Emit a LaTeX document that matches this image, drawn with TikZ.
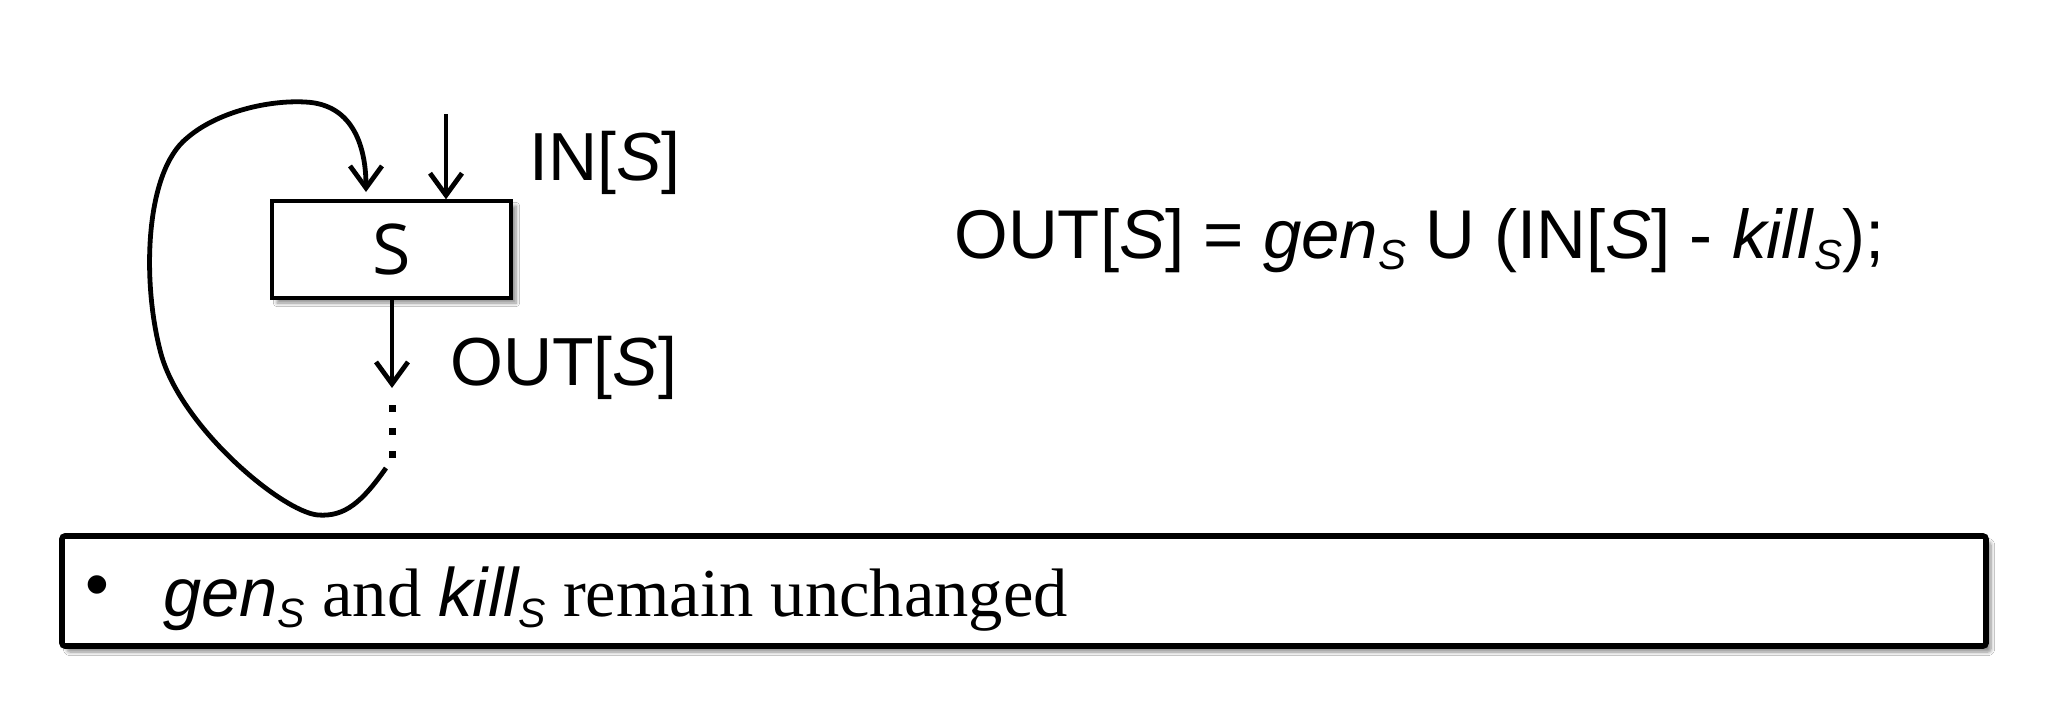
\documentclass[tikz,border=0pt]{standalone}
\usepackage{fontspec}
\setmainfont{Liberation Serif}
\setsansfont{Liberation Sans}
\newfontfamily\boxfont{Open Sans}
\usetikzlibrary{arrows.meta,shadows.blur}
\newcommand{\mysub}[1]{\raisebox{-0.17em}{\fontsize{#1}{#1}\selectfont\sffamily\itshape S}}
\begin{document}
\begin{tikzpicture}[x=0.5pt,y=-0.5pt,
  arr/.style={line width=2.4pt,-{Straight Barb[length=11pt,width=16pt]}},
  loopline/.style={line width=2.4pt},
  sbox/.style={draw,line width=1.7pt,fill=white,minimum width=119.5pt,minimum height=48.5pt,inner sep=0pt,
    blur shadow={shadow xshift=2.5pt,shadow yshift=-2.5pt,shadow blur steps=6,shadow opacity=45}},
  notebox/.style={draw,line width=2.8pt,fill=white,rounded corners=1.5pt,
    blur shadow={shadow xshift=2.5pt,shadow yshift=-3pt,shadow blur steps=6,shadow opacity=45}},
  lbl/.style={font=\sffamily\fontsize{34pt}{40pt}\selectfont,inner sep=0pt,anchor=base west},
  dotsq/.style={fill=black}
]
\useasboundingbox (0,0) rectangle (2048,718);
\fill[white] (0,0) rectangle (2048,718);

% statement box
\node[sbox,font=\boxfont\fontsize{35pt}{40pt}\selectfont] (s) at (391.5,249.5) {S};

% IN arrow
\coordinate (inTop) at (446,114);
\draw[arr] (inTop) -- (inTop |- s.north);
\node[lbl] (inlbl) at (529,180) {IN[\textit{S}]};

% OUT arrow
\coordinate (outEnd) at (392,388);
\draw[arr] (outEnd |- s.south) -- (outEnd);
\node[lbl] (outlbl) at (450,385) {OUT[\textit{S}]};

% dots
\foreach \yy in {408,431,454} \fill[dotsq] (388.5,\yy-3.5) rectangle (395.5,\yy+3.5);

% loop back
\coordinate (loopStart) at (386,468);
\coordinate (loopEnd) at (366,192);
\draw[loopline,-{Straight Barb[length=11pt,width=16pt]}] (loopStart)
  .. controls (362,502) and (345,517) .. (318,515)
  .. controls (282,512) and (178,425) .. (160,350)
  .. controls (142,280) and (145,172) .. (187,138)
  .. controls (217,112) and (268,100) .. (305,102)
  .. controls (355,104) and (366,150) .. (loopEnd);

% formula
\node[inner sep=0pt,anchor=base west,font=\sffamily\fontsize{34.5pt}{42pt}\selectfont] (formula) at (954,258)
  {OUT[\textit{S}] = \textit{gen}\mysub{21pt} U (IN[\textit{S}] - \textit{kill}\mysub{21pt});};

% note box
\node[notebox,minimum width=962pt,minimum height=55pt,inner sep=0pt] (note) at (1024,591) {};
\node[inner sep=0pt,font=\sffamily\fontsize{34pt}{40pt}\selectfont] (bullet) at (97,592) {\textbullet};
\node[inner sep=0pt,anchor=base west,font=\fontsize{34.3pt}{40pt}\selectfont] (notetext) at (163,616)
  {{\sffamily\itshape gen}\mysub{20.5pt} and {\sffamily\itshape kill}\mysub{20.5pt} remain unchanged};
\end{tikzpicture}
\end{document}
